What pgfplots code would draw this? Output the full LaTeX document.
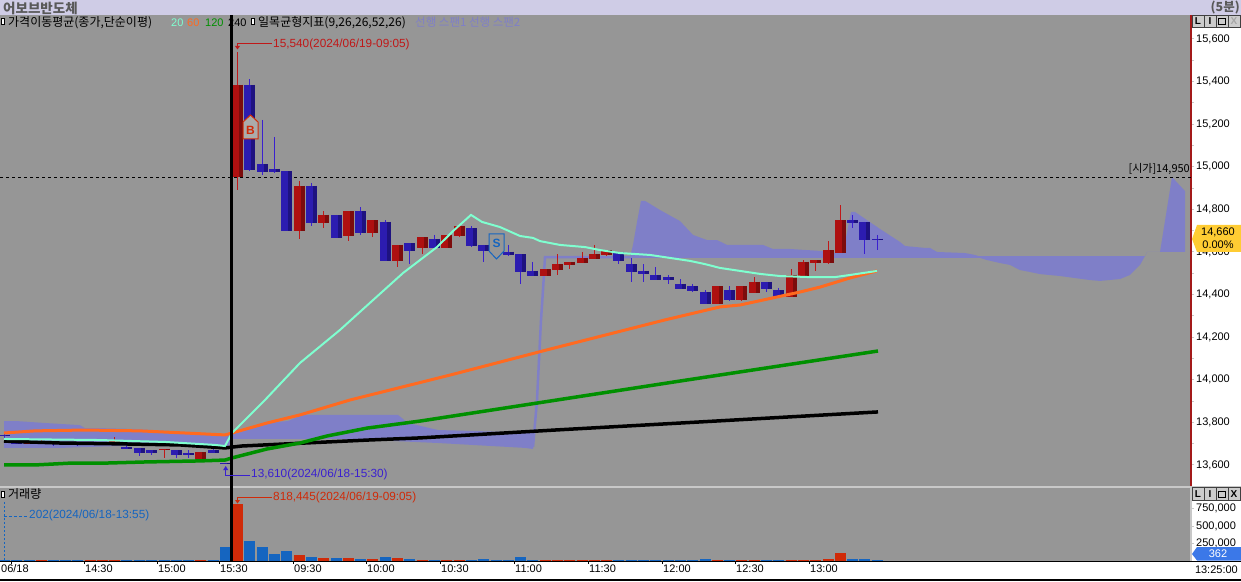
\documentclass[border=0pt]{standalone}
\usepackage{fontspec}
\usepackage{pgfplots}
\usepackage{pgfplotstable}
\pgfplotsset{compat=1.18}
\setmainfont{Liberation Sans}
\newfontfamily\kr{Noto Sans CJK KR}

\definecolor{panel}{HTML}{969696}
\definecolor{titlebar}{HTML}{CFCCE6}
\definecolor{cloud}{HTML}{7F7FC8}
\definecolor{ma20}{HTML}{7FFFD0}
\definecolor{ma60}{HTML}{FF6A20}
\definecolor{ma120}{HTML}{009000}
\definecolor{upbody}{HTML}{AE1010}
\definecolor{updark}{HTML}{7C0C0C}
\definecolor{upwick}{HTML}{C01818}
\definecolor{downbody}{HTML}{2C1CB0}
\definecolor{downdark}{HTML}{1E1280}
\definecolor{downwick}{HTML}{3A20D0}
\definecolor{volup}{HTML}{D02A08}
\definecolor{voldown}{HTML}{1565C0}
\definecolor{tagyellow}{HTML}{FFCC33}
\definecolor{tagblue}{HTML}{3B78E8}
\definecolor{sep}{HTML}{C8C8C8}

% candles: x, body top, body bottom, high, low
\pgfplotstableread{
x top bot hi lo
237.5 15384 14952 15540 14891
299 14910 14698 14933 14661
323.5 14774 14736 14792 14712
348.5 14792 14675 14792 14651
372.5 14750 14689 14750 14670
397.5 14633 14558 14633 14529
422 14670 14619 14670 14590
446.5 14680 14619 14680 14619
459 14722 14675 14722 14670
545 14520 14487 14520 14487
557.5 14543 14515 14590 14492
569.5 14553 14539 14553 14520
582 14572 14548 14600 14548
594.5 14590 14567 14633 14567
606.5 14609 14586 14609 14581
717.5 14440 14356 14440 14356
741.5 14440 14375 14440 14370
754 14459 14407 14482 14407
791 14492 14389 14520 14389
803.5 14553 14487 14562 14487
815.5 14562 14548 14562 14511
828 14609 14548 14651 14543
840.5 14750 14595 14820 14595
29 13708 13699 13708 13699
41 13708 13699 13717 13699
90 13708 13694 13708 13694
102 13708 13694 13708 13694
114 13712 13708 13731 13699
164 13675 13670 13675 13633
200.5 13661 13628 13661 13628
}\upcandles

\pgfplotstableread{
x top bot hi lo
249.5 15384 14985 15412 14980
262 15013 14975 15220 14961
274 14990 14975 15140 14971
286 14980 14698 14980 14698
311 14910 14736 14924 14722
336 14774 14666 14774 14666
360.5 14792 14689 14811 14680
385 14741 14558 14750 14558
409.5 14642 14605 14642 14543
434.5 14661 14619 14680 14619
471.5 14712 14628 14722 14623
483.5 14633 14605 14633 14553
496 14633 14619 14633 14619
508 14600 14586 14633 14581
520.5 14590 14506 14590 14450
532.5 14511 14487 14553 14487
618.5 14600 14558 14600 14543
631 14543 14506 14572 14459
643.5 14511 14497 14543 14459
655.5 14492 14468 14529 14468
668 14482 14468 14492 14450
680.5 14450 14426 14473 14426
692.5 14440 14417 14450 14412
705 14412 14356 14421 14356
729.5 14421 14375 14440 14370
766.5 14459 14426 14459 14412
778.5 14421 14389 14431 14389
852.5 14750 14736 14774 14712
864.5 14741 14656 14741 14590
877 14661 14656 14680 14609
4 13741 13736 13755 13727
16.5 13708 13699 13708 13699
53 13708 13699 13708 13689
65 13703 13694 13703 13694
77 13703 13694 13703 13689
126.5 13682 13677 13712 13677
139 13680 13656 13680 13642
151.5 13670 13656 13670 13647
176 13670 13647 13670 13633
188 13654 13649 13670 13633
213 13670 13656 13680 13656
225.5 13611 13607 13611 13607
}\downcandles

\newcommand{\candles}[4]{%
  \addplot[draw=none, mark=none, error bars/y dir=minus, error bars/y explicit,
    error bars/error mark=none, error bars/error bar style={draw=#4, line width=1pt}]
    table[x=x, y=hi, y error minus expr=\thisrow{hi}-\thisrow{lo}] {#1};
  \addplot[draw=none, mark=none, error bars/y dir=minus, error bars/y explicit,
    error bars/error mark=none, error bars/error bar style={draw=#2, line width=11pt}]
    table[x=x, y=top, y error minus expr=\thisrow{top}-\thisrow{bot}] {#1};
  \addplot[draw=none, mark=none, error bars/y dir=minus, error bars/y explicit,
    error bars/error mark=none, error bars/error bar style={draw=#3, line width=4pt}]
    table[x expr=\thisrow{x}+3.5, y=top, y error minus expr=\thisrow{top}-\thisrow{bot}] {#1};
}

\begin{document}
\begin{tikzpicture}
\useasboundingbox (0,0) rectangle (1241pt,581pt);
\fill[titlebar] (0,566pt) rectangle (1241pt,581pt);

% price panel
\begin{axis}[
    name=price,
    at={(0pt,94pt)}, anchor=south west,
    scale only axis, width=1191pt, height=472pt,
    xmin=0, xmax=1191,
    ymin=13496.5, ymax=15712.6,
    axis background/.style={fill=panel},
    axis x line=none,
    axis y line*=right,
    axis line style={-, color=red!60!black!90, line width=2pt},
    ytick={13600,13800,14000,14200,14400,14600,14800,15000,15200,15400,15600},
    minor y tick num=1,
    tick style={color=sep, line width=1pt},
    major tick length=3pt, minor tick length=3pt,
    tick align=outside,
    yticklabel pos=right,
    yticklabel style={font=\fontsize{11}{11}\selectfont, inner sep=0pt, xshift=2pt},
    scaled y ticks=false,
    /pgf/number format/assume math mode=true,
    /pgf/number format/1000 sep={,},
    /pgf/number format/fixed,
]
% ichimoku cloud
\addplot[fill=cloud, draw=none] coordinates {
(4,13806) (17,13806) (45,13797) (80,13787) (85,13773) (100,13773) (135,13769) (180,13755) (215,13741) (232,13741)
(262,13797) (288,13806) (302,13835) (398,13835) (408,13797) (438,13764) (508,13755) (535,13755)
(533,13675) (525,13680) (438,13703) (372,13717) (345,13722) (232,13722)
(228,13684) (150,13694) (60,13680) (4,13680)
} --cycle;
\addplot[fill=cloud, draw=none] coordinates {
(630,14576) (633,14633) (637,14741) (641,14840) (645,14840) (660,14797) (680,14745) (693,14680) (707,14656) (717,14656)
(727,14633) (763,14633) (773,14614) (790,14614) (820,14605) (835,14595) (843,14595) (851,14788) (855,14788)
(880,14708) (900,14647) (905,14628) (925,14619) (930,14619) (937,14600) (965,14595) (975,14586) (978,14581)
(1145,14581) (1147,14600) (1160,14600) (1172,14952) (1185,14886) (1185,14600) (1147,14600)
(1145,14581) (1140,14539) (1130,14492) (1120,14473) (1100,14464) (1090,14468) (1060,14487) (1040,14496)
(1030,14506) (1020,14515) (1010,14539) (1000,14548) (987,14562) (980,14572) (630,14572)
} --cycle;
\addplot[color=cloud, line width=2.5pt] coordinates {
(533,13684) (537,13905) (541,14280) (543,14422) (545,14576) (632,14576)
};
% open price line
\addplot[black, line width=1pt, dash pattern=on 3pt off 3pt] coordinates {(0,14950) (1191,14950)};
% candles
\candles{\upcandles}{upbody}{updark}{upwick}
\candles{\downcandles}{downbody}{downdark}{downwick}
% moving averages
\addplot[black, line width=3.5pt] coordinates {
(4,13712) (60,13703) (120,13699) (180,13694) (225,13680) (242,13689) (368,13717) (420,13727) (555,13764) (700,13802) (878,13849)
};
\addplot[color=ma120, line width=3.5pt] coordinates {
(4,13600) (35,13600) (72,13609) (107,13609) (145,13614) (200,13619) (225,13623) (232,13633) (267,13675) (300,13703) (327,13736) (367,13773) (420,13806) (550,13900) (680,13994) (878,14135)
};
\addplot[color=ma60, line width=3pt] coordinates {
(4,13750) (35,13760) (85,13764) (140,13760) (185,13750) (225,13741) (232,13750) (267,13797) (300,13835) (350,13905) (450,14022) (550,14144) (665,14281) (720,14342) (740,14351) (800,14412) (820,14435) (850,14478) (877,14511)
};
\addplot[color=ma20, line width=2pt] coordinates {
(4,13722) (100,13717) (135,13712) (165,13708) (215,13694) (225,13689) (232,13750) (265,13905) (300,14079) (340,14234) (373,14374) (403,14501) (437,14623) (453,14698) (471,14774) (482,14741) (500,14717) (520,14675) (533,14666) (540,14651) (560,14633) (585,14623) (600,14609) (620,14595) (650,14586) (670,14572) (690,14558) (705,14543) (720,14525) (740,14511) (760,14497) (780,14487) (810,14482) (835,14482) (850,14492) (870,14506) (877,14511)
};
\end{axis}

% volume panel
\begin{axis}[
    name=volume,
    at={(0pt,20pt)}, anchor=south west,
    scale only axis, width=1191pt, height=73pt,
    xmin=0, xmax=1191,
    ymin=0, ymax=1048000,
    axis background/.style={fill=panel},
    axis x line*=bottom,
    axis y line*=right,
    x axis line style={-, black, line width=1pt},
    y axis line style={-, color=sep, line width=2pt},
    xtick={11,84,157,219,293,366,440,514,588,662,735,809},
    xticklabels={\hspace*{-11pt}06/18,14:30,15:00,15:30,09:30,10:00,10:30,11:00,11:30,12:00,12:30,13:00},
    x tick style={black, line width=1pt},
    y tick style={color=sep, line width=1pt},
    major tick length=3pt,
    tick align=outside,
    xticklabel style={font=\fontsize{11}{11}\selectfont, anchor=north west, inner xsep=1pt, inner ysep=0pt, yshift=-0.5pt},
    ytick={250000,500000,750000},
    yticklabel pos=right,
    yticklabel style={font=\fontsize{11}{11}\selectfont, inner sep=0pt, xshift=2pt},
    scaled y ticks=false,
    /pgf/number format/assume math mode=true,
    /pgf/number format/1000 sep={,},
    /pgf/number format/fixed,
]
\addplot[ycomb, color=voldown, line width=11pt] coordinates {
(4,14000) (16.5,14000) (29,14000) (53,14000) (65,14000) (77,14000) (126.5,14000) (139,14000) (151.5,14000) (164,14000) (176,14000) (188,14000) (213,14000)
(225.5,205000) (249.5,287000) (262,201000) (274,100000) (286,144000) (311,57000) (336,43000) (360.5,29000) (385,57000) (409.5,29000)
(434.5,14000) (471.5,14000) (483.5,29000) (496,14000) (508,14000) (520.5,57000) (532.5,14000)
(618.5,14000) (631,14000) (643.5,14000) (655.5,14000) (668,14000) (680.5,14000) (692.5,14000) (705,29000) (729.5,14000)
(766.5,14000) (778.5,14000) (852.5,29000) (864.5,29000) (877,14000)
};
\addplot[ycomb, color=volup, line width=11pt] coordinates {
(41,14000) (90,14000) (102,14000) (114,14000) (200.5,14000)
(237.5,818445) (299,86000) (323.5,43000) (348.5,43000) (372.5,29000) (397.5,43000) (422,14000)
(446.5,14000) (459,14000) (545,14000) (557.5,14000) (569.5,14000) (582,14000) (594.5,14000) (606.5,14000)
(717.5,14000) (741.5,14000) (754,14000) (791,14000) (803.5,14000) (815.5,14000) (828,29000) (840.5,115000)
};
\end{axis}

% panel separators and frame
\draw[sep, line width=1.5pt] (0,94pt) -- (1241pt,94pt);
\draw[black, line width=1pt] (0,20pt) -- (1241pt,20pt);
\draw[black, line width=1.5pt] (0,0.8pt) -- (1241pt,0.8pt);
\draw[black, line width=3.5pt] (231.3pt,20pt) -- (231.3pt,566pt);

% title bar
\node[anchor=west, inner sep=0pt, text=black!65] at (3pt,573pt) {\kr\bfseries\fontsize{13.5}{14}\selectfont 어보브반도체};
\node[anchor=east, inner sep=0pt, text=black!65] at (1240pt,573pt) {\kr\bfseries\fontsize{12.5}{13}\selectfont (5분)};

% legend line
\tikzset{icon/.style={draw=black, fill=white, line width=1pt, minimum width=3pt, minimum height=6pt, inner sep=0pt}}
\node[icon] at (2.5pt,559pt) {};
\node[icon] at (252.5pt,559pt) {};
\node[icon] at (2.5pt,87pt) {};
\node[anchor=west, inner sep=0pt] at (8pt,558.5pt) {\kr\fontsize{12}{12}\selectfont 가격이동평균(종가,단순이평)};
\node[anchor=west, inner sep=0pt, text=ma20] at (171pt,558.5pt) {\fontsize{11}{11}\selectfont 20};
\node[anchor=west, inner sep=0pt, text=ma60] at (187pt,558.5pt) {\fontsize{11}{11}\selectfont 60};
\node[anchor=west, inner sep=0pt, text=ma120] at (205pt,558.5pt) {\fontsize{11}{11}\selectfont 120};
\node[anchor=west, inner sep=0pt] at (228pt,558.5pt) {\fontsize{11}{11}\selectfont 240};
\draw[black, line width=3.5pt] (231.3pt,545pt) -- (231.3pt,566pt);
\node[anchor=west, inner sep=0pt] at (258pt,558.5pt) {\kr\fontsize{12}{12}\selectfont 일목균형지표(9,26,26,52,26)};
\node[anchor=west, inner sep=0pt, text=cloud] at (415pt,558.5pt) {\kr\fontsize{11.5}{12}\selectfont 선행 스팬1 선행 스팬2};

% high and low callouts
\draw[upwick, line width=1pt] (237.5pt,532pt) -- (237.5pt,537pt) -- (272pt,537pt);
\fill[upwick] (235pt,535pt) -- (240pt,535pt) -- (237.5pt,531.5pt) -- cycle;
\node[anchor=west, inner sep=0pt, text=upwick] at (273pt,537pt) {\fontsize{11.8}{12}\selectfont 15,540(2024/06/19-09:05)};
\draw[downwick, line width=1pt] (225.7pt,114pt) -- (225.7pt,106pt) -- (250pt,106pt);
\fill[downwick] (223.2pt,111pt) -- (228.2pt,111pt) -- (225.7pt,115pt) -- cycle;
\node[anchor=west, inner sep=0pt, text=downwick] at (251pt,106.5pt) {\fontsize{11.8}{12}\selectfont 13,610(2024/06/18-15:30)};
\node[anchor=east, inner sep=0pt] at (1190pt,412pt) {\kr\fontsize{11}{12}\selectfont [시가]14,950};

% volume callouts
\node[anchor=west, inner sep=0pt] at (8pt,87pt) {\kr\fontsize{12}{12}\selectfont 거래량};
\draw[volup, line width=1pt] (237.5pt,80pt) -- (237.5pt,84pt) -- (272pt,84pt);
\fill[volup] (235pt,81pt) -- (240pt,81pt) -- (237.5pt,77.5pt) -- cycle;
\node[anchor=west, inner sep=0pt, text=volup] at (273pt,84pt) {\fontsize{11.8}{12}\selectfont 818,445(2024/06/19-09:05)};
\draw[voldown, line width=1pt, dash pattern=on 2pt off 2pt] (4.3pt,21pt) -- (4.3pt,79pt);
\draw[voldown, line width=1pt, dash pattern=on 3pt off 2pt] (4.3pt,65pt) -- (28pt,65pt);
\node[anchor=west, inner sep=0pt, text=voldown] at (29pt,65.5pt) {\fontsize{11.8}{12}\selectfont 202(2024/06/18-13:55)};

% signal markers
\filldraw[draw=volup, fill=black!33, line width=1pt] (243pt,442pt) -- (243pt,459pt) -- (250.5pt,466pt) -- (258pt,459pt) -- (258pt,442pt) -- cycle;
\node[text=volup, inner sep=0pt] at (250.5pt,451pt) {\bfseries\fontsize{12}{12}\selectfont B};
\filldraw[draw=voldown, fill=panel, line width=1pt] (489pt,347pt) -- (504pt,347pt) -- (504pt,330pt) -- (496.5pt,322pt) -- (489pt,330pt) -- cycle;
\node[text=voldown, inner sep=0pt] at (496.5pt,337.5pt) {\bfseries\fontsize{12}{12}\selectfont S};

% current value tags
\fill[tagyellow] (1192pt,342pt) -- (1197pt,356pt) -- (1241pt,356pt) -- (1241pt,329pt) -- (1197pt,329pt) -- cycle;
\node[inner sep=0pt] at (1218pt,349pt) {\fontsize{11}{11}\selectfont 14,660};
\node[inner sep=0pt] at (1218pt,336pt) {\fontsize{11}{11}\selectfont 0.00\%};
\fill[tagblue] (1192pt,27pt) -- (1197pt,34pt) -- (1241pt,34pt) -- (1241pt,20.5pt) -- (1197pt,20.5pt) -- cycle;
\node[inner sep=0pt, text=white] at (1218pt,27pt) {\fontsize{11}{11}\selectfont 362};
\node[anchor=east, inner sep=0pt] at (1238pt,11pt) {\fontsize{11}{11}\selectfont 13:25:00};

% panel buttons
\tikzset{btn/.style={draw=black!75, fill=black!20, line width=0.7pt, minimum width=12pt, minimum height=12.5pt, inner sep=0pt, font=\fontsize{10}{10}\bfseries\selectfont}}
\foreach \yy/\xc in {559.5/black!35, 87/black} {
  \node[btn] at (1198pt,\yy pt) {L};
  \node[btn] at (1210pt,\yy pt) {I};
  \node[btn] at (1222pt,\yy pt) {};
  \node[draw=black, line width=1pt, minimum width=7pt, minimum height=6pt, inner sep=0pt] at (1222pt,\yy pt) {};
  \node[btn, text=\xc] at (1234pt,\yy pt) {X};
}
\end{tikzpicture}
\end{document}
